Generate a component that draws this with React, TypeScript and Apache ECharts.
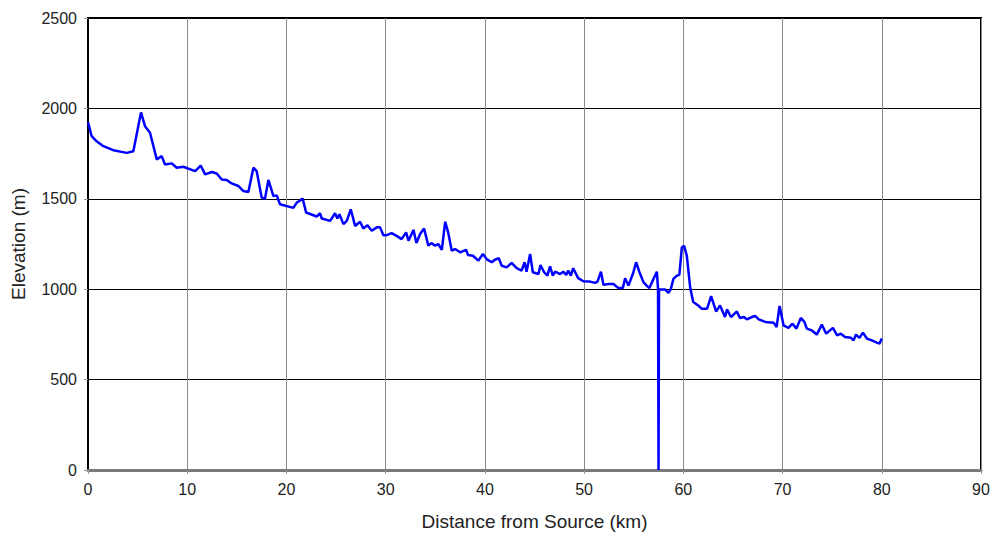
import React, { useEffect, useRef } from "react";
import * as echarts from "echarts";

const distanceKm: number[] = [
  0, 0.37, 0.87, 1.55, 2.55, 3.9, 4.57, 5.34, 5.75, 6.25, 6.93, 7.43, 7.76, 8.44, 8.94, 9.6,
  10.8, 11.36, 11.8, 12.47, 12.97, 13.48, 13.98, 14.48, 15.15, 15.66, 16.16, 16.67, 17.0, 17.5,
  17.84, 18.18, 18.68, 19.02, 19.35, 20.7, 21.04, 21.3, 21.64, 21.98, 23.05, 23.39, 23.56, 24.4,
  24.9, 25.13, 25.34, 25.74, 26.08, 26.48, 26.92, 27.42, 27.75, 28.16, 28.6, 29.1, 29.44, 29.77,
  30.1, 30.6, 31.1, 31.6, 32.06, 32.3, 32.8, 33.1, 33.47, 33.87, 34.3, 34.6, 34.98, 35.3, 35.66,
  36.0, 36.3, 36.66, 37.0, 37.5, 38.1, 38.3, 38.8, 39.34, 39.8, 40.2, 40.7, 41.0, 41.4, 41.7,
  42.2, 42.7, 43.2, 43.7, 44.0, 44.2, 44.56, 44.83, 45.4, 45.6, 45.97, 46.3, 46.57, 46.84, 47.08,
  47.58, 47.9, 48.2, 48.4, 48.66, 48.9, 49.4, 49.93, 50.6, 51.1, 51.35, 51.7, 51.95, 52.45, 52.95,
  53.46, 53.9, 54.13, 54.47, 54.97, 55.24, 55.58, 55.98, 56.3, 56.58, 56.92, 57.33, 57.45, 57.5,
  57.55, 57.83, 58.17, 58.5, 58.74, 59.0, 59.35, 59.6, 59.85, 60.08, 60.35, 60.7, 61.0, 61.5,
  61.86, 62.4, 62.8, 63.3, 63.7, 64.2, 64.4, 64.8, 65.4, 65.7, 66.1, 66.4, 66.9, 67.24, 67.6,
  68.25, 69.1, 69.4, 69.7, 70.1, 70.6, 71.0, 71.4, 71.84, 72.2, 72.45, 72.95, 73.45, 73.96, 74.4,
  75.07, 75.5, 75.87, 76.3, 76.9, 77.16, 77.4, 77.75, 78.1, 78.5, 79.0, 79.5, 79.77, 80.0,
];

const elevationM: number[] = [
  1925, 1846, 1818, 1791, 1769, 1754, 1763, 1978, 1901, 1865, 1718, 1736, 1690, 1696, 1672, 1677,
  1653, 1684, 1635, 1648, 1640, 1607, 1604, 1585, 1571, 1543, 1538, 1672, 1653, 1507,
  1501, 1604, 1516, 1519, 1470, 1450, 1479, 1488, 1501, 1424, 1402, 1420, 1391, 1378,
  1420, 1391, 1415, 1360, 1378, 1442, 1350, 1373, 1336, 1354, 1323, 1342, 1342, 1299,
  1299, 1310, 1295, 1277, 1314, 1268, 1328, 1255, 1305, 1336, 1241, 1255, 1241, 1250, 1218,
  1373, 1314, 1213, 1222, 1204, 1218, 1189, 1185, 1158, 1195, 1165, 1149, 1163, 1171, 1130,
  1121, 1145, 1116, 1103, 1149, 1097, 1195, 1094, 1084, 1134, 1094, 1075, 1127, 1075, 1097,
  1084, 1097, 1079, 1103, 1075, 1116, 1061, 1044, 1042, 1035, 1042, 1097, 1024, 1029, 1029,
  1006, 1006, 1061, 1020, 1094, 1149, 1094, 1039, 1020, 1006, 1048, 1097, 1002, 0,
  1000, 998, 998, 980, 1002, 1057, 1075, 1079, 1231, 1240, 1185, 1005, 929, 910,
  892, 892, 962, 877, 910, 846, 888, 846, 877, 841, 846, 833, 846, 852, 833,
  819, 815, 791, 907, 800, 786, 809, 782, 841, 819, 782, 772, 749, 804, 754,
  786, 745, 754, 736, 731, 717, 749, 731, 760, 727, 717, 705, 699, 727,
];

const xTicks = { min: 0, max: 90, interval: 10 };
const yTicks = { min: 0, max: 2500, interval: 500 };

export default function App() {
  const ref = useRef<HTMLDivElement>(null);
  useEffect(() => {
    if (!ref.current) return;
    const chart = echarts.init(ref.current, undefined, { renderer: "svg" });
    const font = "'Liberation Sans', Arial, sans-serif";
    chart.setOption({
      animation: false,
      backgroundColor: "#ffffff",
      grid: {
        left: 88,
        top: 18,
        right: 19,
        bottom: 64,
        show: true,
        borderColor: "#000000",
        borderWidth: 2,
        backgroundColor: "transparent",
      },
      xAxis: {
        type: "value",
        min: xTicks.min,
        max: xTicks.max,
        interval: xTicks.interval,
        name: "Distance from Source (km)",
        nameLocation: "middle",
        nameGap: 42,
        nameTextStyle: { fontFamily: font, fontSize: 19, color: "#222" },
        axisLine: { show: true, onZero: false, lineStyle: { color: "#7a7a7a", width: 3 } },
        axisTick: { show: true, length: 4, lineStyle: { color: "#999" } },
        axisLabel: { fontFamily: font, fontSize: 16, color: "#222", margin: 11, formatter: (v: number) => String(v) },
        splitLine: { show: true, lineStyle: { color: "#8a8a8a", width: 1 } },
      },
      yAxis: {
        type: "value",
        min: yTicks.min,
        max: yTicks.max,
        interval: yTicks.interval,
        name: "Elevation (m)",
        nameLocation: "middle",
        nameGap: 60,
        nameTextStyle: { fontFamily: font, fontSize: 19, color: "#222" },
        axisLine: { show: true, lineStyle: { color: "#000", width: 2 } },
        axisTick: { show: true, length: 4, lineStyle: { color: "#999" } },
        axisLabel: { fontFamily: font, fontSize: 16, color: "#222", margin: 11, formatter: (v: number) => String(v) },
        splitLine: { show: true, lineStyle: { color: "#000000", width: 1 } },
      },
      series: [
        {
          type: "line",
          data: distanceKm.map((d, i) => [d, elevationM[i]]),
          showSymbol: false,
          symbol: "none",
          lineStyle: { color: "#0000ff", width: 2.5 },
          z: 3,
        },
      ],
    });
    return () => chart.dispose();
  }, []);
  return <div ref={ref} style={{ width: 1000, height: 536, position: "absolute", left: 0, top: 0 }} />;
}
